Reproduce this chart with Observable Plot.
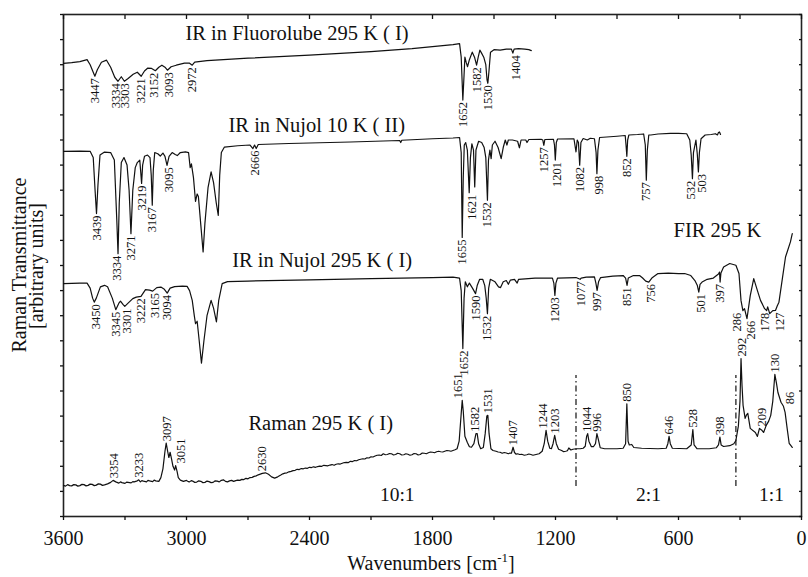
<!DOCTYPE html>
<html>
<head>
<meta charset="utf-8">
<script src="https://cdn.jsdelivr.net/npm/d3@7"></script>
<script src="https://cdn.jsdelivr.net/npm/@observablehq/plot@0.6"></script>
<style>
  body { margin: 0; background: #fff; }
  #chart svg { display: block; }
</style>
</head>
<body>
<div id="chart"></div>
<script>
const serif = "'Liberation Serif', 'Times New Roman', Times, serif";

// Spectra as [wavenumber (cm^-1), offset transmittance / intensity (arb. units)]
const fluorolube = [
  [3600, 18.05], [3560, 18.08], [3520, 18.12], [3485, 18.20], [3470, 18.0], [3455, 17.7], [3447, 17.54],
  [3435, 17.8], [3415, 18.1], [3390, 18.18], [3370, 17.9], [3350, 17.5], [3334, 17.34], [3318, 17.52],
  [3303, 17.34], [3285, 17.45], [3260, 17.62], [3240, 17.70], [3221, 17.54], [3205, 17.75], [3190, 17.86],
  [3170, 17.85], [3152, 17.76], [3135, 17.9], [3120, 17.98], [3105, 17.9], [3093, 17.78], [3075, 17.92],
  [3050, 17.98], [3010, 18.06], [2985, 18.06], [2972, 17.98], [2960, 18.1], [2900, 18.16], [2700, 18.26],
  [2400, 18.38], [2100, 18.52], [1900, 18.64], [1700, 18.8], [1668, 18.84], [1660, 18.3], [1652, 16.59],
  [1646, 17.6], [1642, 18.3], [1636, 18.1], [1629, 17.92], [1620, 18.2], [1606, 18.5], [1595, 18.3],
  [1585, 17.98], [1577, 18.3], [1569, 18.58], [1560, 18.45], [1550, 18.3], [1540, 18.0], [1534, 17.4],
  [1530, 17.26], [1525, 17.7], [1517, 18.5], [1500, 18.6], [1470, 18.58], [1440, 18.62], [1415, 18.62],
  [1408, 18.46], [1402, 18.62], [1380, 18.64], [1350, 18.62], [1330, 18.6], [1318, 18.56]
];
const fluorolubePeaks = [3447, 3334, 3303, 3221, 3152, 3093, 2972, 1652, 1582, 1530, 1404];

const nujol10K = [
  [3600, 14.55], [3520, 14.56], [3470, 14.55], [3455, 14.3], [3446, 13.0], [3439, 12.07], [3432, 13.2],
  [3422, 14.4], [3400, 14.52], [3370, 14.5], [3352, 14.2], [3340, 11.8], [3334, 10.47], [3328, 12.5],
  [3318, 14.1], [3305, 14.3], [3290, 14.0], [3280, 13.0], [3271, 11.27], [3262, 13.0], [3250, 13.9],
  [3240, 14.1], [3228, 14.2], [3224, 13.8], [3219, 13.27], [3214, 14.0], [3205, 14.35], [3190, 14.4],
  [3178, 14.3], [3172, 13.6], [3167, 12.4], [3162, 13.8], [3155, 14.5], [3140, 14.45], [3128, 14.36],
  [3115, 14.48], [3105, 14.35], [3095, 13.99], [3085, 14.35], [3070, 14.5], [3055, 14.42], [3045, 14.38],
  [3030, 14.5], [3005, 14.53], [2990, 14.5], [2982, 13.9], [2976, 14.05], [2966, 13.5], [2956, 12.55],
  [2948, 12.85], [2942, 12.75], [2930, 11.6], [2919, 10.54], [2910, 11.7], [2895, 13.1], [2880, 13.73],
  [2868, 13.3], [2855, 12.5], [2845, 12.0], [2838, 13.6], [2830, 14.5], [2815, 14.72], [2750, 14.77],
  [2690, 14.8], [2676, 14.66], [2668, 14.8], [2660, 14.66], [2650, 14.82], [2500, 14.86], [2200, 14.92],
  [1960, 14.98], [1955, 14.9], [1950, 14.99], [1800, 15.05], [1700, 15.08], [1668, 15.1], [1660, 14.5],
  [1655, 11.12], [1650, 13.5], [1645, 14.8], [1638, 14.9], [1630, 14.6], [1621, 12.9], [1615, 14.3],
  [1608, 14.85], [1600, 14.6], [1594, 13.13], [1588, 14.6], [1575, 14.95], [1560, 14.9], [1548, 14.7],
  [1540, 14.3], [1532, 12.6], [1527, 14.2], [1520, 14.6], [1514, 14.26], [1508, 14.8], [1495, 14.95],
  [1480, 14.7], [1465, 14.26], [1455, 14.7], [1445, 15.0], [1437, 14.8], [1430, 15.0], [1410, 15.0],
  [1385, 14.95], [1376, 14.69], [1368, 15.0], [1345, 15.0], [1339, 14.9], [1330, 15.02], [1270, 15.03],
  [1262, 15.0], [1257, 14.79], [1252, 15.02], [1210, 15.03], [1205, 14.8], [1201, 14.2], [1196, 14.9],
  [1190, 15.04], [1110, 15.05], [1100, 14.53], [1094, 15.0], [1088, 14.9], [1082, 14.0], [1076, 14.9],
  [1065, 15.06], [1045, 15.0], [1030, 15.07], [1010, 15.05], [1002, 14.5], [998, 13.66], [993, 14.6],
  [985, 15.1], [950, 15.12], [900, 15.15], [860, 15.18], [856, 14.8], [852, 14.35], [848, 15.0],
  [842, 15.2], [800, 15.22], [770, 15.24], [762, 14.8], [757, 13.4], [752, 14.6], [745, 15.2],
  [735, 15.2], [700, 15.24], [640, 15.26], [600, 15.26], [560, 15.25], [545, 15.0], [538, 14.4],
  [532, 13.46], [527, 14.5], [515, 15.0], [508, 14.4], [503, 13.73], [498, 14.5], [490, 15.05],
  [470, 15.2], [440, 15.22], [420, 15.25], [410, 15.2], [405, 15.3], [400, 15.32], [395, 15.22]
];
const nujol10KPeaks = [3439, 3334, 3271, 3219, 3167, 3095, 2666, 1655, 1621, 1532, 1257, 1201, 1082, 998, 852, 757, 532, 503];

const nujol295K = [
  [3600, 9.28], [3520, 9.3], [3485, 9.3], [3470, 9.1], [3458, 8.7], [3450, 8.54], [3440, 8.7], [3420, 9.15],
  [3400, 9.21], [3385, 9.15], [3362, 8.7], [3345, 8.24], [3330, 8.5], [3322, 8.58], [3310, 8.45], [3301, 8.37],
  [3285, 8.5], [3262, 8.68], [3245, 8.74], [3222, 8.77], [3200, 9.04], [3180, 9.02], [3165, 8.98], [3145, 9.12],
  [3125, 9.14], [3108, 9.05], [3094, 8.9], [3080, 9.1], [3058, 9.16], [3020, 9.18], [2997, 9.17], [2985, 9.0],
  [2972, 8.61], [2962, 8.0], [2956, 7.68], [2948, 7.78], [2938, 7.0], [2927, 6.11], [2915, 7.0], [2900, 8.0],
  [2880, 8.61], [2868, 8.3], [2854, 7.75], [2843, 8.6], [2826, 9.28], [2800, 9.36], [2700, 9.38], [2400, 9.43],
  [2100, 9.48], [1800, 9.52], [1700, 9.54], [1668, 9.5], [1660, 9.0], [1652, 6.69], [1646, 8.7], [1640, 9.35],
  [1630, 9.15], [1620, 9.3], [1605, 9.1], [1590, 8.88], [1582, 9.2], [1570, 9.45], [1555, 9.45], [1545, 9.2],
  [1538, 8.7], [1532, 8.08], [1526, 9.1], [1518, 9.45], [1495, 9.35], [1478, 9.15], [1468, 9.12], [1455, 9.35],
  [1440, 9.4], [1430, 9.25], [1420, 9.42], [1400, 9.45], [1387, 9.3], [1380, 9.45], [1300, 9.5], [1215, 9.5],
  [1208, 9.3], [1203, 8.81], [1198, 9.3], [1190, 9.5], [1100, 9.52], [1080, 9.45], [1075, 9.5], [1050, 9.54],
  [1010, 9.55], [1003, 9.3], [997, 9.01], [990, 9.35], [980, 9.52], [920, 9.58], [870, 9.6], [858, 9.5],
  [851, 9.21], [845, 9.5], [820, 9.6], [790, 9.6], [775, 9.5], [760, 9.38], [745, 9.34], [730, 9.5],
  [700, 9.68], [650, 9.7], [600, 9.68], [570, 9.68], [540, 9.6], [520, 9.4], [508, 9.2], [501, 8.94],
  [495, 9.25], [485, 9.34], [460, 9.45], [430, 9.5], [405, 9.66], [400, 9.74], [397, 9.34], [393, 9.7],
  [380, 9.94], [350, 10.08], [320, 10.01], [305, 9.68], [295, 8.6], [286, 8.2], [278, 8.28], [266, 7.88],
  [250, 8.8], [233, 9.48], [215, 9.0], [200, 8.61], [180, 8.28], [170, 8.2], [165, 8.35], [155, 8.08],
  [140, 8.2], [127, 8.21], [118, 8.4], [110, 8.54], [93, 9.5], [78, 10.34], [70, 10.54], [54, 10.94], [45, 11.27]
];
const nujol295KPeaks = [3450, 3345, 3301, 3222, 3165, 3094, 1652, 1590, 1532, 1203, 1077, 997, 851, 756, 501, 397, 286, 266, 178, 127];

const raman295K = [
  [3600, 1.24], [3590, 1.21], [3580, 1.27], [3570, 1.23], [3560, 1.22], [3550, 1.27], [3540, 1.26], [3530, 1.21],
  [3520, 1.23], [3510, 1.28], [3500, 1.27], [3490, 1.22], [3480, 1.24], [3470, 1.29], [3460, 1.28], [3450, 1.23],
  [3440, 1.25], [3430, 1.3], [3420, 1.29], [3410, 1.24], [3400, 1.26], [3385, 1.3], [3370, 1.36], [3358, 1.44],
  [3345, 1.38], [3330, 1.33], [3322, 1.38], [3315, 1.35], [3300, 1.32], [3292, 1.37], [3285, 1.36], [3270, 1.34],
  [3262, 1.39], [3255, 1.38], [3240, 1.42], [3233, 1.46], [3225, 1.38], [3218, 1.43], [3210, 1.41], [3195, 1.38],
  [3188, 1.44], [3180, 1.42], [3165, 1.39], [3158, 1.45], [3150, 1.42], [3135, 1.40], [3125, 1.55], [3115, 1.9],
  [3105, 2.6], [3099, 2.92], [3092, 2.6], [3086, 2.35], [3080, 2.56], [3073, 2.3], [3066, 2.0], [3058, 1.85],
  [3053, 2.03], [3046, 1.8], [3040, 1.55], [3030, 1.45], [3015, 1.40], [3000, 1.44], [2992, 1.39], [2985, 1.38],
  [2977, 1.43], [2970, 1.41], [2960, 1.36], [2950, 1.37], [2940, 1.42], [2930, 1.40], [2920, 1.35], [2910, 1.36],
  [2900, 1.41], [2890, 1.39], [2880, 1.35], [2870, 1.36], [2860, 1.42], [2850, 1.41], [2840, 1.38], [2830, 1.44],
  [2820, 1.46], [2810, 1.40], [2800, 1.38], [2790, 1.42], [2780, 1.44], [2770, 1.40], [2760, 1.43], [2750, 1.45],
  [2740, 1.44], [2730, 1.48], [2720, 1.47], [2710, 1.52], [2700, 1.5], [2690, 1.55], [2680, 1.56], [2670, 1.60],
  [2660, 1.62], [2650, 1.66], [2640, 1.69], [2630, 1.72], [2615, 1.74], [2600, 1.68], [2585, 1.58], [2570, 1.53],
  [2555, 1.58], [2540, 1.65], [2530, 1.7], [2520, 1.73], [2510, 1.74], [2500, 1.78], [2490, 1.8], [2480, 1.83],
  [2470, 1.84], [2460, 1.88], [2450, 1.87], [2440, 1.91], [2430, 1.9], [2420, 1.93], [2410, 1.92], [2400, 1.96],
  [2390, 1.95], [2380, 1.98], [2370, 1.96], [2360, 1.99], [2350, 2.01], [2340, 2.0], [2330, 2.04], [2320, 2.03],
  [2310, 2.02], [2300, 2.05], [2290, 2.07], [2280, 2.04], [2270, 2.08], [2260, 2.1], [2250, 2.09], [2240, 2.12],
  [2230, 2.15], [2220, 2.16], [2210, 2.15], [2200, 2.2], [2190, 2.19], [2180, 2.23], [2170, 2.22], [2160, 2.26],
  [2150, 2.28], [2140, 2.3], [2130, 2.29], [2120, 2.34], [2110, 2.33], [2100, 2.38], [2090, 2.37], [2080, 2.41],
  [2070, 2.44], [2060, 2.45], [2050, 2.43], [2040, 2.5], [2030, 2.46], [2020, 2.47], [2010, 2.51], [2000, 2.5],
  [1990, 2.45], [1980, 2.47], [1970, 2.52], [1960, 2.5], [1950, 2.45], [1940, 2.46], [1930, 2.5], [1920, 2.48],
  [1910, 2.44], [1900, 2.46], [1890, 2.51], [1880, 2.5], [1870, 2.45], [1860, 2.47], [1850, 2.53], [1840, 2.52],
  [1830, 2.5], [1820, 2.54], [1810, 2.57], [1800, 2.56], [1790, 2.54], [1780, 2.58], [1770, 2.6], [1760, 2.58],
  [1750, 2.57], [1740, 2.6], [1730, 2.63], [1720, 2.62], [1710, 2.6], [1700, 2.63], [1690, 2.66], [1680, 2.7],
  [1670, 3.0], [1660, 4.1], [1655, 4.63], [1650, 4.2], [1642, 3.2], [1630, 2.95], [1620, 2.78], [1610, 2.76],
  [1598, 2.9], [1588, 3.3], [1582, 3.3], [1575, 2.9], [1565, 2.7], [1552, 2.75], [1543, 3.3], [1535, 4.0],
  [1530, 4.03], [1524, 3.3], [1515, 2.7], [1505, 2.63], [1490, 2.6], [1480, 2.57], [1470, 2.56], [1460, 2.52],
  [1450, 2.55], [1440, 2.53], [1430, 2.5], [1422, 2.53], [1415, 2.52], [1407, 2.76], [1400, 2.55], [1392, 2.48],
  [1385, 2.5], [1375, 2.47], [1365, 2.48], [1352, 2.44], [1340, 2.46], [1330, 2.49], [1320, 2.47], [1310, 2.44],
  [1300, 2.46], [1290, 2.48], [1280, 2.5], [1265, 2.6], [1255, 2.9], [1246, 3.43], [1238, 3.0], [1228, 2.72],
  [1220, 2.7], [1212, 2.9], [1204, 3.23], [1196, 2.9], [1185, 2.68], [1170, 2.63], [1160, 2.58], [1150, 2.6],
  [1142, 2.62], [1135, 2.73], [1125, 2.65], [1115, 2.68], [1100, 2.7], [1080, 2.7], [1065, 2.72], [1055, 2.8],
  [1048, 3.2], [1043, 3.3], [1037, 3.0], [1025, 2.78], [1015, 2.78], [1005, 2.9], [998, 3.3], [992, 3.1],
  [982, 2.74], [960, 2.7], [900, 2.7], [870, 2.72], [858, 2.9], [852, 4.49], [846, 3.0], [840, 2.85],
  [828, 2.87], [818, 2.75], [780, 2.72], [700, 2.7], [660, 2.72], [652, 2.9], [646, 3.19], [640, 2.9],
  [630, 2.72], [560, 2.7], [538, 2.85], [530, 3.46], [524, 2.85], [510, 2.7], [450, 2.7], [415, 2.74],
  [405, 2.85], [398, 3.16], [392, 2.85], [380, 2.79], [350, 2.82], [330, 2.9], [320, 3.03], [308, 3.6],
  [300, 4.6], [295, 6.29], [290, 5.2], [285, 4.43], [275, 3.91], [268, 4.05], [262, 4.11], [250, 3.51],
  [225, 3.35], [215, 3.19], [205, 3.51], [195, 3.45], [185, 3.35], [172, 3.63], [160, 3.8], [150, 4.03],
  [140, 4.6], [130, 5.66], [122, 5.3], [115, 4.94], [100, 4.55], [88, 4.39], [80, 4.15], [70, 3.51],
  [60, 2.91], [45, 2.75]
];
const raman295KPeaks = [3354, 3233, 3097, 3051, 2630, 1651, 1582, 1531, 1407, 1244, 1203, 1044, 996, 850, 646, 528, 398, 292, 209, 130, 86];

// Spectrum names and where they sit (wavenumber, arb. units)
const titleText = ["IR in Fluorolube 295 K ( I)", "IR in Nujol 10 K ( II)", "IR in Nujol 295 K ( I)", "FIR 295 K", "Raman 295 K ( I)"];
const titleWn = [3005, 2795, 2777, 624, 2698];
const titleY = [19.26, 15.59, 10.21, 11.38, 3.72];

// Raman intensity scaling per region and the region boundaries
const ratioText = ["10:1", "2:1", "1:1"];
const ratioWn = [1972, 746, 146];
const ratioBreaks = [1100, 320];

const xTicks = d3.range(0, 3601, 300);
const yTicks = d3.range(0, 21, 1);

// Small sideways shifts (cm^-1) that keep crowded peak labels apart
const labelShift = {
  fluorolube: {3334: 12, 3303: -5, 3152: 7, 3093: -10, 1404: -10},
  nujol10K: {3334: 7, 3095: -10, 1621: -15, 1201: -10, 998: -10, 532: 7, 503: -20},
  nujol295K: {3450: -10, 3301: -10, 3165: -10, 1652: -5, 756: -20, 501: -10, 286: 30, 266: -20, 127: -20},
  raman295K: {1651: 26, 1582: 10, 1244: 15, 3051: -22, 209: -15, 86: -30}
};

// Value of the band extreme nearest a labelled wavenumber (dir < 0: dip, dir > 0: peak)
function bandValue(series, wn, dir) {
  let best = null;
  for (const [w, v] of series) {
    if (Math.abs(w - wn) <= 12 && (best === null || (dir < 0 ? v < best : v > best))) best = v;
  }
  return best;
}
function bandLabels(series, peaks, dir, shift) {
  return peaks.map(wn => ({text: String(wn), x: wn + (shift[wn] || 0), y: bandValue(series, wn, dir)}));
}

const irLabels = [
  ...bandLabels(fluorolube, fluorolubePeaks, -1, labelShift.fluorolube),
  ...bandLabels(nujol10K, nujol10KPeaks, -1, labelShift.nujol10K),
  ...bandLabels(nujol295K, nujol295KPeaks, -1, labelShift.nujol295K)
];
const ramanLabels = bandLabels(raman295K, raman295KPeaks, 1, labelShift.raman295K);

const lineOpts = {x: d => d[0], y: d => d[1], stroke: "#111", strokeWidth: 1.2};

const chart = Plot.plot({
  width: 808,
  height: 577,
  marginTop: 14,
  marginBottom: 61,
  marginLeft: 63,
  marginRight: 7,
  x: {domain: [3600, 0], label: null},
  y: {domain: [0, 20], label: null},
  style: {fontFamily: serif, fontSize: "12px", background: "#fff", color: "#111"},
  marks: [
    Plot.frame({stroke: "#222", strokeWidth: 1.6}),
    Plot.axisX({anchor: "bottom", ticks: xTicks, tickSize: 4, tickPadding: 10, fontSize: 20,
      tickFormat: d => (d % 600 === 0 ? String(d) : ""), label: null, strokeWidth: 1.3}),
    Plot.axisX({anchor: "top", ticks: xTicks, tickSize: -4, tickFormat: () => "", label: null, strokeWidth: 1.3}),
    Plot.axisY({anchor: "left", ticks: yTicks, tickSize: 3, tickFormat: () => "", label: null, strokeWidth: 1.3}),
    Plot.axisY({anchor: "right", ticks: yTicks, tickSize: -3, tickFormat: () => "", label: null, strokeWidth: 1.3}),
    Plot.line(fluorolube, lineOpts),
    Plot.line(nujol10K, lineOpts),
    Plot.line(nujol295K, lineOpts),
    Plot.line(raman295K, lineOpts),
    Plot.ruleX(ratioBreaks, {y1: 1.2, y2: 5.62, stroke: "#111", strokeWidth: 1.2, strokeDasharray: "6,3,1.5,3"}),
    Plot.text(irLabels, {x: "x", y: "y", text: "text", rotate: -90, textAnchor: "end", dy: 2, fontSize: 12.5}),
    Plot.text(ramanLabels, {x: "x", y: "y", text: "text", rotate: -90, textAnchor: "start", dy: -2, fontSize: 12.5}),
    Plot.text(titleText, {x: (d, i) => titleWn[i], y: (d, i) => titleY[i], text: d => d, textAnchor: "start", fontSize: 20.5}),
    Plot.text(ratioText, {x: (d, i) => ratioWn[i], y: 0.88, text: d => d, textAnchor: "middle", fontSize: 19.5})
  ]
});

// Axis titles (the x title carries a superscript)
const svg = d3.select(chart);
const xt = svg.append("text")
  .attr("x", 431).attr("y", 570)
  .attr("text-anchor", "middle")
  .attr("font-family", serif).attr("font-size", 20).attr("fill", "#111");
xt.append("tspan").text("Wavenumbers [cm");
xt.append("tspan").attr("dy", -8).attr("font-size", 13).text("-1");
xt.append("tspan").attr("dy", 8).text("]");

svg.append("text")
  .attr("transform", "translate(26,265) rotate(-90)")
  .attr("text-anchor", "middle")
  .attr("font-family", serif).attr("font-size", 20).attr("fill", "#111")
  .text("Raman Transmittance");
svg.append("text")
  .attr("transform", "translate(43,266) rotate(-90)")
  .attr("text-anchor", "middle")
  .attr("font-family", serif).attr("font-size", 20).attr("fill", "#111")
  .text("[arbitrary units]");

document.getElementById("chart").appendChild(chart);
</script>
</body>
</html>
